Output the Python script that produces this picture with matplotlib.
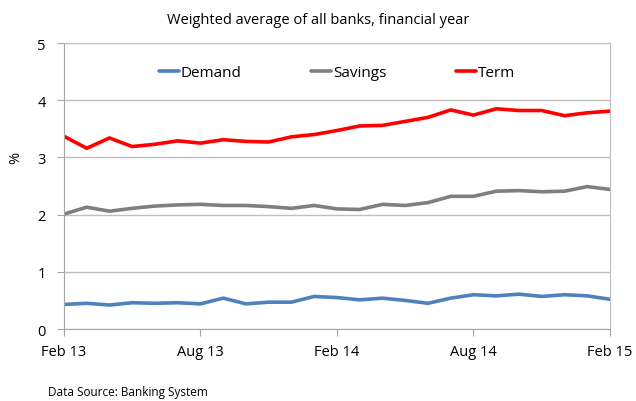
import matplotlib.pyplot as plt
import numpy as np

# monthly, Feb 13 .. Feb 15
months = ['Feb 13', 'Mar 13', 'Apr 13', 'May 13', 'Jun 13', 'Jul 13', 'Aug 13',
          'Sep 13', 'Oct 13', 'Nov 13', 'Dec 13', 'Jan 14', 'Feb 14', 'Mar 14',
          'Apr 14', 'May 14', 'Jun 14', 'Jul 14', 'Aug 14', 'Sep 14', 'Oct 14',
          'Nov 14', 'Dec 14', 'Jan 15', 'Feb 15']
demand = [0.43, 0.45, 0.42, 0.46, 0.45, 0.46, 0.44, 0.54, 0.44, 0.47, 0.47, 0.57,
          0.55, 0.51, 0.54, 0.50, 0.45, 0.54, 0.60, 0.58, 0.61, 0.57, 0.60, 0.58, 0.52]
savings = [2.01, 2.13, 2.06, 2.11, 2.15, 2.17, 2.18, 2.16, 2.16, 2.14, 2.11, 2.16,
           2.10, 2.09, 2.18, 2.16, 2.21, 2.32, 2.32, 2.41, 2.42, 2.40, 2.41, 2.49, 2.44]
term = [3.37, 3.16, 3.34, 3.19, 3.23, 3.29, 3.25, 3.31, 3.28, 3.27, 3.36, 3.40,
        3.47, 3.55, 3.56, 3.63, 3.70, 3.83, 3.74, 3.85, 3.82, 3.82, 3.73, 3.78, 3.81]
tick_labels = ['Feb 13', 'Aug 13', 'Feb 14', 'Aug 14', 'Feb 15']

plt.rcParams['font.family'] = ['Open Sans', 'DejaVu Sans']

fig = plt.figure(figsize=(6.36, 4.02), dpi=100)
ax = fig.add_axes([0.1006, 0.179, 0.8585, 0.7115])

x = np.arange(len(months))
ax.plot(x, demand, color='#4F81BD', lw=2.6, label='Demand', solid_capstyle='round')
ax.plot(x, savings, color='#7F7F7F', lw=2.6, label='Savings', solid_capstyle='round')
ax.plot(x, term, color='#FF0000', lw=2.6, label='Term', solid_capstyle='round')

ax.set_xlim(0, len(months) - 1)
ax.set_ylim(0, 5)
ticks = [months.index(t) for t in tick_labels]
ax.set_xticks(ticks)
ax.set_xticklabels(tick_labels, fontsize=10.5)
ax.set_yticks(range(6))
ax.tick_params(axis='y', labelsize=10.5, length=5, color='#A6A6A6', pad=8)
ax.tick_params(axis='x', length=5, color='#A6A6A6', pad=6)
ax.grid(axis='y', color='#BFBFBF', lw=1)
ax.set_axisbelow(True)
for s in ax.spines.values():
    s.set_color('#BFBFBF')
ax.spines['left'].set_color('#A6A6A6')
ax.spines['bottom'].set_color('#A6A6A6')

ax.set_ylabel('%', fontsize=10.5, labelpad=12)
ax.yaxis.set_label_coords(-0.075, 0.6)
fig.suptitle('Weighted average of all banks, financial year', fontsize=10.5, y=0.968)

ax.legend(loc='upper center', bbox_to_anchor=(0.5, 0.97), ncol=3, frameon=False,
          fontsize=11, handlelength=1.3, handletextpad=0.1, columnspacing=4.6)

fig.text(0.0755, 0.014, 'Data Source: Banking System', fontsize=8.5)

fig.savefig('out.png', dpi=100)
